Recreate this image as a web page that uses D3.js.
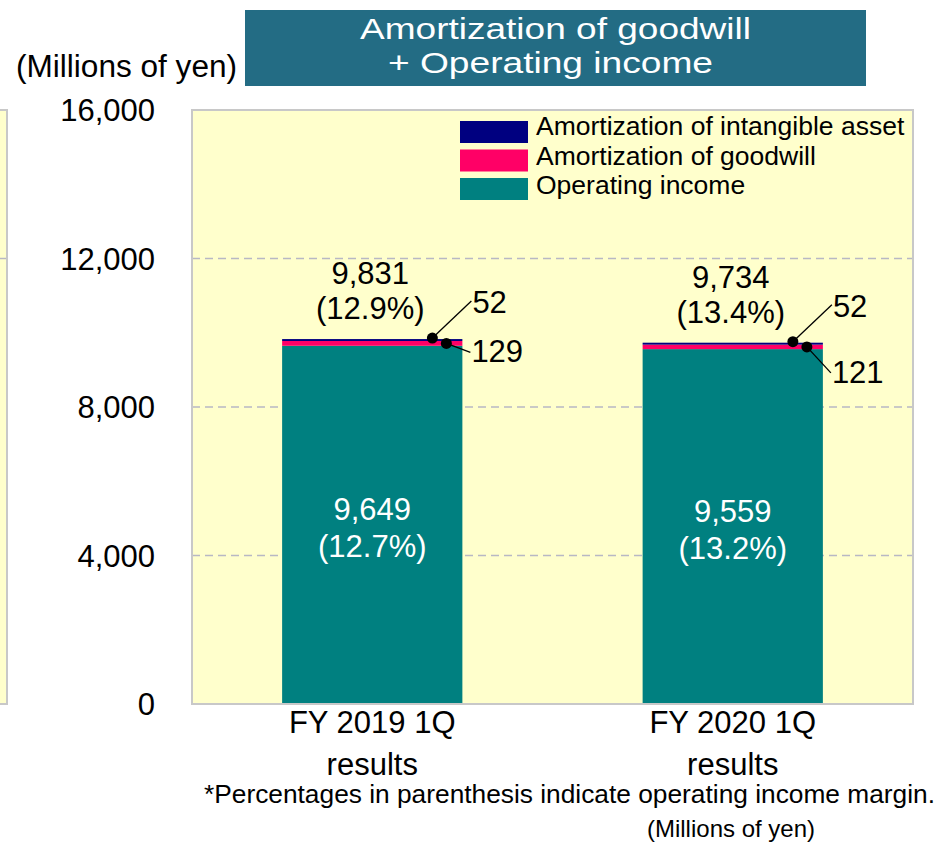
<!DOCTYPE html>
<html>
<head>
<meta charset="utf-8">
<script src="https://cdn.jsdelivr.net/npm/d3@7"></script>
<style>
  body { margin: 0; background: #fff; }
  svg { display: block; font-family: "Liberation Sans", Arial, sans-serif; }
</style>
</head>
<body>
<svg id="chart" width="940" height="844"></svg>
<script>
// data
var categories = ['FY 2019 1Q|results', 'FY 2020 1Q|results'];
var operatingIncome = [9649, 9559];
var goodwill = [129, 121];
var intangible = [52, 52];
var totals = [9831, 9734];
var totalMargin = ['12.9%', '13.4%'];
var opMargin = ['12.7%', '13.2%'];
var yTicks = [0, 4000, 8000, 12000, 16000];
var seriesNames = ['Amortization of intangible asset', 'Amortization of goodwill', 'Operating income'];
var seriesColors = ['#000080', '#ff0066', '#008080'];

var width = 940, height = 844;
var plot = { left: 192, right: 913, top: 110, bottom: 704 };

var svg = d3.select('#chart');

var x = d3.scaleBand()
    .domain(categories)
    .range([plot.left, plot.right])
    .paddingInner(0.5)
    .paddingOuter(0.25);

var y = d3.scaleLinear()
    .domain([0, 16000])
    .range([plot.bottom, plot.top]);

var fmt = d3.format(',');

// left sliver of neighbouring panel
svg.append('rect')
    .attr('x', -10).attr('y', plot.top)
    .attr('width', 17).attr('height', plot.bottom - plot.top)
    .attr('fill', '#ffffcc')
    .attr('stroke', '#c8c8c8').attr('stroke-width', 2);
svg.append('line')
    .attr('x1', 0).attr('x2', 6)
    .attr('y1', y(12000)).attr('y2', y(12000))
    .attr('stroke', '#b8b8c4').attr('stroke-width', 1.5);

// plot background
svg.append('rect')
    .attr('x', plot.left).attr('y', plot.top)
    .attr('width', plot.right - plot.left).attr('height', plot.bottom - plot.top)
    .attr('fill', '#ffffcc');

// grid
svg.append('g')
    .selectAll('line')
    .data(yTicks.filter(d => d > 0 && d < 16000))
    .enter().append('line')
    .attr('x1', plot.left).attr('x2', plot.right)
    .attr('y1', d => y(d)).attr('y2', d => y(d))
    .attr('stroke', '#b8b8c4')
    .attr('stroke-width', 1.5)
    .attr('stroke-dasharray', '8,5');

// stacked bars
var rows = categories.map((c, i) => ({
    cat: c, op: operatingIncome[i], gw: goodwill[i], ia: intangible[i]
}));
var stack = d3.stack().keys(['op', 'gw', 'ia'])(rows);
var stackColors = { op: seriesColors[2], gw: seriesColors[1], ia: seriesColors[0] };

svg.append('g')
    .selectAll('g')
    .data(stack)
    .enter().append('g')
    .attr('fill', d => stackColors[d.key])
    .selectAll('rect')
    .data(d => d)
    .enter().append('rect')
    .attr('x', d => x(d.data.cat))
    .attr('width', x.bandwidth())
    .attr('y', d => y(d[1]))
    .attr('height', d => y(d[0]) - y(d[1]));

// plot border
svg.append('rect')
    .attr('x', plot.left).attr('y', plot.top)
    .attr('width', plot.right - plot.left).attr('height', plot.bottom - plot.top)
    .attr('fill', 'none')
    .attr('stroke', '#c8c8c8').attr('stroke-width', 2);

// y axis labels
svg.append('g')
    .selectAll('text')
    .data(yTicks)
    .enter().append('text')
    .attr('x', 155)
    .attr('y', d => y(d))
    .attr('dy', '0.36em')
    .attr('text-anchor', 'end')
    .attr('font-size', 31)
    .attr('fill', '#000')
    .text(d => fmt(d));

// x axis labels
var xl = svg.append('g').selectAll('text')
    .data(categories)
    .enter().append('text')
    .attr('text-anchor', 'middle')
    .attr('font-size', 31)
    .attr('fill', '#000');
xl.each(function(d) {
    var parts = d.split('|');
    var cx = x(d) + x.bandwidth() / 2;
    d3.select(this).selectAll('tspan')
        .data(parts)
        .enter().append('tspan')
        .attr('x', cx)
        .attr('y', (p, j) => 733 + j * 42)
        .text(p => p);
});

// labels inside the bars
rows.forEach(function(r, i) {
    var cx = x(r.cat) + x.bandwidth() / 2;
    var mid = (y(r.op) + y(0)) / 2;
    svg.append('text')
        .attr('x', cx).attr('y', mid - 5)
        .attr('text-anchor', 'middle').attr('font-size', 31).attr('fill', '#fff')
        .text(fmt(r.op));
    svg.append('text')
        .attr('x', cx).attr('y', mid + 32)
        .attr('text-anchor', 'middle').attr('font-size', 31).attr('fill', '#fff')
        .text('(' + opMargin[i] + ')');

    var top = y(totals[i]);
    svg.append('text')
        .attr('x', cx - 2).attr('y', top - 55)
        .attr('text-anchor', 'middle').attr('font-size', 31).attr('fill', '#000')
        .text(fmt(totals[i]));
    svg.append('text')
        .attr('x', cx - 2).attr('y', top - 20)
        .attr('text-anchor', 'middle').attr('font-size', 31).attr('fill', '#000')
        .text('(' + totalMargin[i] + ')');

    // callouts
    var right = x(r.cat) + x.bandwidth();
    var d1 = { x: right - 30, y: y(r.op + r.gw + r.ia) - 1 };
    var d2 = { x: right - 16, y: y(r.op + r.gw / 2) };
    var l1 = { x: right + 9, y: d1.y - 37 };
    var l2 = { x: right + 8, y: d2.y + (i === 0 ? 9 : 26) };

    svg.append('line')
        .attr('x1', d1.x).attr('y1', d1.y).attr('x2', l1.x).attr('y2', l1.y)
        .attr('stroke', '#000').attr('stroke-width', 1.3);
    svg.append('line')
        .attr('x1', d2.x).attr('y1', d2.y).attr('x2', l2.x).attr('y2', l2.y)
        .attr('stroke', '#000').attr('stroke-width', 1.3);
    svg.append('circle').attr('cx', d1.x).attr('cy', d1.y).attr('r', 5.5).attr('fill', '#000');
    svg.append('circle').attr('cx', d2.x).attr('cy', d2.y).attr('r', 5.5).attr('fill', '#000');

    svg.append('text')
        .attr('x', l1.x + 1).attr('y', l1.y + 12)
        .attr('font-size', 31).attr('fill', '#000')
        .text(fmt(r.ia));
    svg.append('text')
        .attr('x', l2.x + 1).attr('y', l2.y + 10)
        .attr('font-size', 31).attr('fill', '#000')
        .text(fmt(r.gw));
});

// legend
var legend = svg.append('g').selectAll('g')
    .data(seriesNames)
    .enter().append('g')
    .attr('transform', (d, i) => 'translate(460,' + (121 + i * 28.5) + ')');
legend.append('rect')
    .attr('width', 68).attr('height', 22)
    .attr('fill', (d, i) => seriesColors[i]);
legend.append('text')
    .attr('x', 76).attr('y', (d, i) => 14 + i * 1.2)
    .attr('font-size', 26.5).attr('fill', '#000')
    .text(d => d);

// title box
svg.append('rect')
    .attr('x', 245).attr('y', 10)
    .attr('width', 621).attr('height', 76)
    .attr('fill', '#236c84');
svg.append('text')
    .attr('x', 555.5).attr('y', 39)
    .attr('text-anchor', 'middle').attr('font-size', 29).attr('fill', '#fff')
    .attr('textLength', 391).attr('lengthAdjust', 'spacingAndGlyphs')
    .text('Amortization of goodwill');
svg.append('text')
    .attr('x', 550.5).attr('y', 73)
    .attr('text-anchor', 'middle').attr('font-size', 29).attr('fill', '#fff')
    .attr('textLength', 325).attr('lengthAdjust', 'spacingAndGlyphs')
    .text('+ Operating income');

// unit labels
svg.append('text')
    .attr('x', 16).attr('y', 77)
    .attr('font-size', 31).attr('fill', '#000')
    .attr('textLength', 221).attr('lengthAdjust', 'spacingAndGlyphs')
    .text('(Millions of yen)');
svg.append('text')
    .attr('x', 204).attr('y', 803)
    .attr('font-size', 26).attr('fill', '#000')
    .attr('textLength', 731).attr('lengthAdjust', 'spacingAndGlyphs')
    .text('*Percentages in parenthesis indicate operating income margin.');
svg.append('text')
    .attr('x', 731).attr('y', 837)
    .attr('text-anchor', 'middle')
    .attr('font-size', 24).attr('fill', '#000')
    .text('(Millions of yen)');
</script>
</body>
</html>
